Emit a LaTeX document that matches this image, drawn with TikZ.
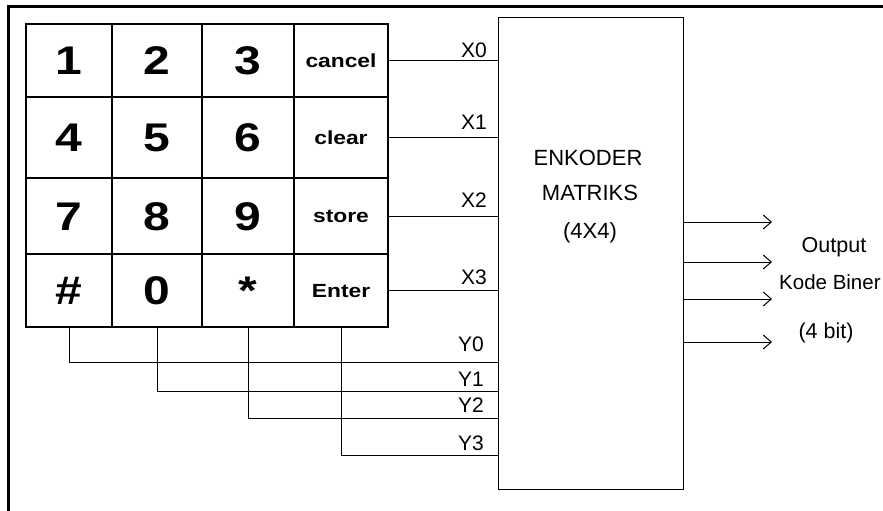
\documentclass[tikz,border=0pt]{standalone}
\usepackage{fontspec}
\setmainfont{Liberation Sans}
\newfontfamily\keyfont[FakeStretch=1.2]{Liberation Sans}
\usetikzlibrary{arrows.meta}
\begin{document}
\begin{tikzpicture}[x=1pt,y=-1pt,
  wire/.style={line width=1pt},
  keycell/.style={draw, line width=1.3pt, inner sep=0pt,
    font=\keyfont\bfseries\fontsize{40}{40}\selectfont, text height=28.6pt, text depth=0pt},
  fnkey/.style={keycell, font=\keyfont\bfseries\fontsize{19}{19}\selectfont, text height=13.6pt, text depth=0pt},
  lbl/.style={font=\fontsize{21}{21}\selectfont, inner sep=0pt},
  outarrow/.style={wire, -{Straight Barb[length=8pt,width=14pt]}}]
\useasboundingbox (0,0) rectangle (883,511);
\clip (0,0) rectangle (883,511);
\draw[line width=3pt] (8,7) rectangle (930,540);
% keypad row 1
\node[keycell, minimum width=86pt, minimum height=73pt] (k1) at (69,60.5) {1};
\node[keycell, minimum width=90pt, minimum height=73pt] (k2) at (157,60.5) {2};
\node[keycell, minimum width=92pt, minimum height=73pt] (k3) at (248,60.5) {3};
\node[fnkey, minimum width=94pt, minimum height=73pt] (kcancel) at (341,60.5) {cancel};
% row 2
\node[keycell, minimum width=86pt, minimum height=81pt] (k4) at (69,137.5) {4};
\node[keycell, minimum width=90pt, minimum height=81pt] (k5) at (157,137.5) {5};
\node[keycell, minimum width=92pt, minimum height=81pt] (k6) at (248,137.5) {6};
\node[fnkey, minimum width=94pt, minimum height=81pt] (kclear) at (341,137.5) {clear};
% row 3
\node[keycell, minimum width=86pt, minimum height=76pt] (k7) at (69,216) {7};
\node[keycell, minimum width=90pt, minimum height=76pt] (k8) at (157,216) {8};
\node[keycell, minimum width=92pt, minimum height=76pt] (k9) at (248,216) {9};
\node[fnkey, minimum width=94pt, minimum height=76pt] (kstore) at (341,216) {store};
% row 4
\node[keycell, minimum width=86pt, minimum height=73pt] (khash) at (69,290.5) {\#};
\node[keycell, minimum width=90pt, minimum height=73pt] (k0) at (157,290.5) {0};
\node[keycell, minimum width=92pt, minimum height=73pt] (kstar) at (248,290.5) {*};
\node[fnkey, minimum width=94pt, minimum height=73pt] (kenter) at (341,290.5) {Enter};
% encoder
\node[draw, line width=1pt, minimum width=185pt, minimum height=471pt, inner sep=0pt] (enc) at (590.5,253.5) {};
\node[lbl, font=\fontsize{22}{22}\selectfont] (t1) at (588,158) {ENKODER};
\node[lbl, font=\fontsize{22}{22}\selectfont] (t2) at (590,193) {MATRIKS};
\node[lbl, font=\fontsize{22}{22}\selectfont] (t3) at (590,233) {(4X4)};
% X wires
\draw[wire] (kcancel.east) -- (kcancel.east -| enc.west);
\draw[wire] (kclear.east) -- (kclear.east -| enc.west);
\draw[wire] (kstore.east) -- (kstore.east -| enc.west);
\draw[wire] (kenter.east) -- (kenter.east -| enc.west);
\node[lbl, anchor=base east] (lx0) at (487,58) {X0};
\node[lbl, anchor=base east] (lx1) at (487,129) {X1};
\node[lbl, anchor=base east] (lx2) at (487,207) {X2};
\node[lbl, anchor=base east] (lx3) at (487,284) {X3};
% Y wires
\coordinate (y0) at (enc.west |- 0,362);
\coordinate (y1) at (enc.west |- 0,391);
\coordinate (y2) at (enc.west |- 0,418);
\coordinate (y3) at (enc.west |- 0,455);
\draw[wire] (khash.south) |- (y0);
\draw[wire] (k0.south) |- (y1);
\draw[wire] (kstar.south) |- (y2);
\draw[wire] (kenter.south) |- (y3);
\node[lbl, anchor=base east] (ly0) at (484,351) {Y0};
\node[lbl, anchor=base east] (ly1) at (484,386) {Y1};
\node[lbl, anchor=base east] (ly2) at (484,412) {Y2};
\node[lbl, anchor=base east] (ly3) at (484,450) {Y3};
% outputs
\coordinate (o0) at (772,222);
\coordinate (o1) at (772,262);
\coordinate (o2) at (772,299);
\coordinate (o3) at (772,342);
\draw[outarrow] (enc.east |- o0) -- (o0);
\draw[outarrow] (enc.east |- o1) -- (o1);
\draw[outarrow] (enc.east |- o2) -- (o2);
\draw[outarrow] (enc.east |- o3) -- (o3);
\node[lbl, font=\fontsize{21.5}{21.5}\selectfont] (out1) at (834,247) {Output};
\node[lbl, font=\fontsize{20.5}{20.5}\selectfont, anchor=west] (out2) at (779,282) {Kode Biner};
\node[lbl, font=\fontsize{21.5}{21.5}\selectfont] (out3) at (826,333) {(4 bit)};
\end{tikzpicture}
\end{document}
